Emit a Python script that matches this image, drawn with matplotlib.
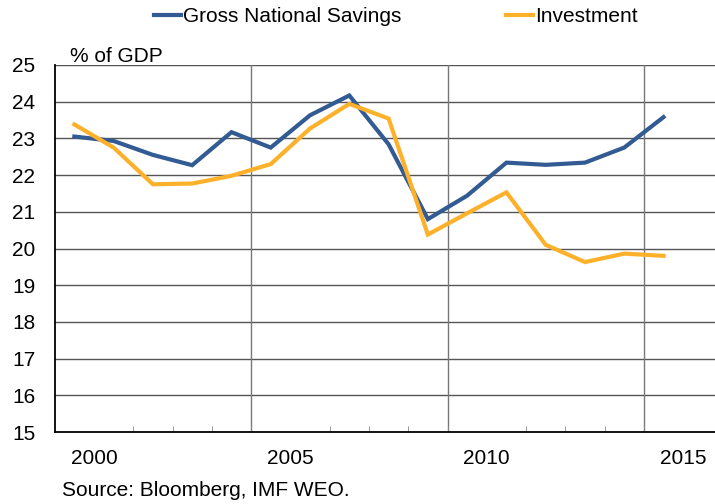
import matplotlib
matplotlib.use("Agg")
import matplotlib.pyplot as plt
from matplotlib.lines import Line2D

plt.rcParams['font.family'] = ['Liberation Sans', 'DejaVu Sans']

# annual data, plotted at mid-year
years = list(range(1999, 2015))
gross_savings = [23.05, 22.93, 22.55, 22.27, 23.17, 22.75, 23.63, 24.17,
                 22.84, 20.80, 21.44, 22.34, 22.28, 22.34, 22.75, 23.58]
investment = [23.38, 22.75, 21.75, 21.77, 21.98, 22.30, 23.27, 23.94,
              23.54, 20.38, 20.96, 21.53, 20.10, 19.63, 19.86, 19.80]
year_labels = [2000, 2005, 2010, 2015]

blue = "#335b93"
orange = "#fdb12b"
fs = 15

fig = plt.figure(figsize=(7.15, 5.04), dpi=100)
ax = fig.add_axes([54.7 / 715, 1 - 432 / 504, 1 - 54.7 / 715, (432 - 65) / 504])

x = [y + 0.5 for y in years]
ax.plot(x, gross_savings, color=blue, lw=3, solid_joinstyle="miter", zorder=3)
ax.plot(x, investment, color=orange, lw=3, solid_joinstyle="miter", zorder=3)

ax.set_xlim(1999, 2015.81)
ax.set_ylim(15, 25)

# gridlines
for v in range(16, 26):
    ax.axhline(v, color="#555555", lw=1, zorder=1)
for v in [2004, 2009, 2014]:
    ax.axvline(v, color="#777777", lw=1, zorder=1)

ax.set_yticks(range(15, 26))
ax.tick_params(axis="y", length=0, pad=14, labelsize=fs)
ax.set_xticks(year_labels)
ax.set_xticks(range(2000, 2016), minor=True)
ax.tick_params(axis="x", which="major", length=0, pad=12, labelsize=fs)
ax.tick_params(axis="x", which="minor", direction="in", length=4, color="#888888")

for s in ["top", "right"]:
    ax.spines[s].set_visible(False)
ax.spines["left"].set_color("black")
ax.spines["bottom"].set_color("black")
ax.spines["left"].set_linewidth(1.3)
ax.spines["bottom"].set_linewidth(1.3)

fig.text(70 / 715, 1 - 62 / 504, "% of GDP", fontsize=fs, ha="left", va="baseline")
fig.text(62 / 715, 1 - 490 / 504, "Source: Bloomberg, IMF WEO.", fontsize=fs,
         ha="left", va="center")

handles = [Line2D([], [], color=blue, lw=3), Line2D([], [], color=orange, lw=3)]
fig.legend(handles, ["Gross National Savings", "Investment"], ncol=2,
           loc="center", bbox_to_anchor=(396 / 715, 1 - 17 / 504),
           frameon=False, fontsize=fs, handlelength=1.3, handletextpad=0.1,
           columnspacing=5.0)

plt.savefig("out.png", dpi=100)
